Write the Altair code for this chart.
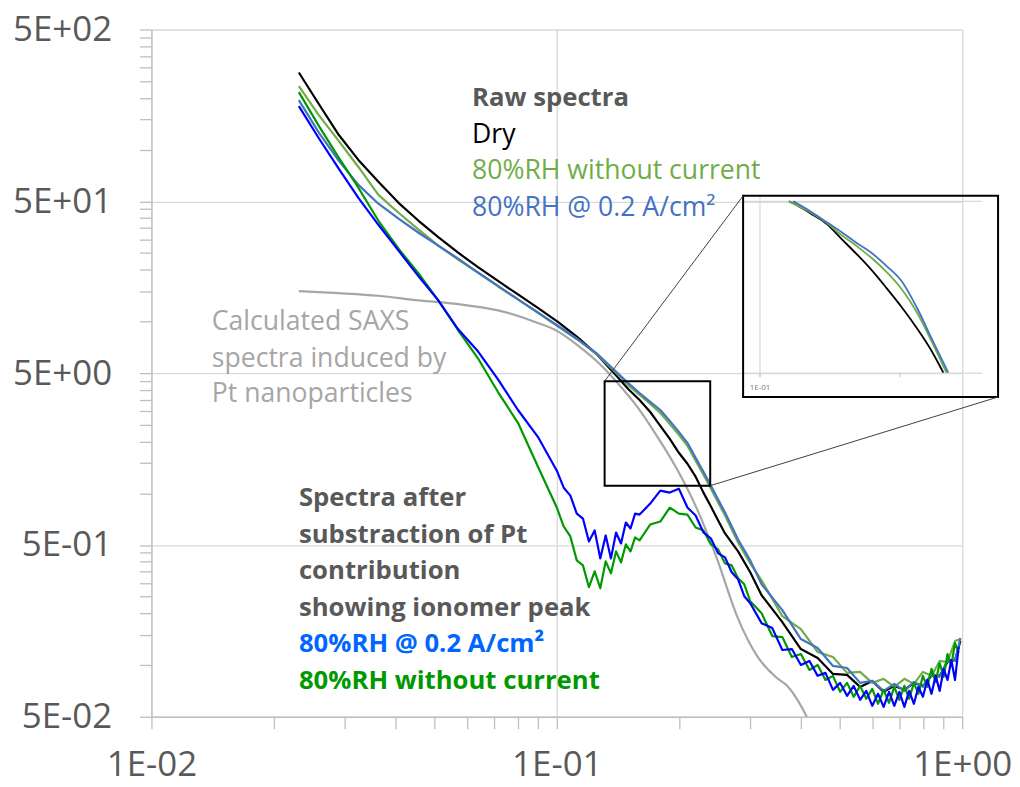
import json
import math
import altair as alt
import pandas as pd

# ---------------- data ----------------
# q grids
q_coarse = [0.0231, 0.0259, 0.0290, 0.0324, 0.0363, 0.0407, 0.0456, 0.0510, 0.0571, 0.0639,
            0.0716, 0.0802, 0.0898, 0.1006, 0.1126]
q_box = [0.1261, 0.1412, 0.15, 0.16, 0.17, 0.18, 0.19, 0.20, 0.21, 0.22, 0.23, 0.24, 0.25, 0.26, 0.28, 0.30]
q_tail = [0.32, 0.36, 0.40, 0.44, 0.48, 0.52, 0.56, 0.60, 0.64, 0.68, 0.72, 0.76, 0.80, 0.84, 0.88,
          0.92, 0.96, 0.99]
q_dip = [0.100, 0.104, 0.108, 0.112, 0.116, 0.120, 0.124, 0.128, 0.132, 0.136, 0.140, 0.144,
         0.148, 0.152, 0.156, 0.160]
q_peak = [0.17, 0.18, 0.19, 0.20, 0.21, 0.22, 0.23, 0.24, 0.25, 0.26, 0.27, 0.28, 0.29, 0.30]
q_sub_tail = [0.32, 0.34, 0.36, 0.38, 0.40, 0.42, 0.44, 0.46, 0.48, 0.50, 0.52, 0.54, 0.56, 0.58,
              0.60, 0.62, 0.64, 0.66, 0.68, 0.70, 0.72, 0.74, 0.76, 0.78, 0.80, 0.82, 0.84, 0.86,
              0.88, 0.90, 0.92, 0.94, 0.96, 0.98]

# raw spectra (coarse + box + tail)
dry_coarse = [281, 183.5, 121.5, 87.1, 64.9, 49.0, 38.5, 30.9, 25.1, 20.7, 17.2, 14.35, 11.99, 9.94, 8.08]
dry_box = [6.36, 4.74, 4.04, 3.49, 2.97, 2.465, 2.072, 1.719, 1.484, 1.248, 1.008, 0.836, 0.6934,
           0.5830, 0.4584, 0.3464]
dry_tail = [0.2548, 0.1777, 0.1239, 0.1099, 0.0888, 0.0876, 0.0746, 0.0808, 0.0698, 0.0756, 0.0717,
            0.0787, 0.0756, 0.0865, 0.0865, 0.1042, 0.1070, 0.1379]

rh_coarse = [234, 158, 112, 79.2, 54.5, 42.9, 34.2, 27.6, 22.9, 19.25, 15.97, 13.43, 11.21, 9.36, 7.82]
rh_box = [6.36, 4.93, 4.26, 3.73, 3.31, 2.93, 2.53, 2.186, 1.887, 1.545, 1.281, 1.063, 0.882, 0.741,
          0.517, 0.3905]
rh_tail = [0.3113, 0.1925, 0.1619, 0.1191, 0.1113, 0.0900, 0.0912, 0.0787, 0.0831, 0.0746, 0.0831,
           0.0777, 0.0912, 0.0865, 0.1056, 0.1042, 0.1379, 0.1416]

cur_coarse = [194, 125, 85.9, 62.3, 48.4, 39.6, 32.8, 27.6, 23.2, 19.25, 16.08, 13.43, 11.29, 9.43, 7.87]
cur_box = [6.44, 5.00, 4.375, 3.83, 3.40, 3.05, 2.635, 2.275, 1.965, 1.608, 1.334, 1.106, 0.918, 0.772,
           0.538, 0.4064]
cur_tail = [0.2951, 0.2086, 0.1416, 0.1256, 0.0988, 0.0961, 0.0787, 0.0808, 0.0707, 0.0777, 0.0707,
            0.0797, 0.0746, 0.0888, 0.0853, 0.1070, 0.1056, 0.1435]

# spectra after subtraction of the Pt contribution
sub_cur_start = [179, 116, 77.2, 52.4, 36.5, 25.8, 18.3, 13.25, 9.0, 6.7, 4.6, 3.05, 2.13]
sub_cur_dip = [1.352, 1.077, 0.968, 0.761, 0.712, 0.524, 0.607, 0.4175, 0.5675, 0.4175, 0.5907,
               0.5102, 0.6753, 0.6233, 0.761, 0.751]
sub_cur_peak = [0.870, 1.035, 1.008, 1.063, 0.825, 0.741, 0.591, 0.545, 0.4465, 0.4231, 0.3464,
                0.3155, 0.2514, 0.2291]
sub_cur_tail = [0.1753, 0.1640, 0.1223, 0.1239, 0.1001, 0.1056, 0.0865, 0.0900, 0.0717, 0.0787,
                0.0662, 0.0756, 0.0627, 0.0707, 0.0579, 0.0680, 0.0571, 0.0698, 0.0579, 0.0698,
                0.0571, 0.0707, 0.0595, 0.0746, 0.0653, 0.0819, 0.0680, 0.0865, 0.0707, 0.0949,
                0.0819, 0.1070, 0.0819, 0.1273]

sub_rh_start = [216, 137, 89.5, 60.0, 38.5, 26.5, 19.0, 13.25, 8.88, 6.1, 3.88, 2.57, 1.43]
sub_rh_dip = [0.825, 0.640, 0.560, 0.4064, 0.3802, 0.2836, 0.3510, 0.2798, 0.4010, 0.3418, 0.4584,
              0.3957, 0.5034, 0.4584, 0.5527, 0.5310]
sub_rh_peak = [0.6574, 0.6843, 0.825, 0.761, 0.751, 0.6316, 0.607, 0.5034, 0.4709, 0.3905, 0.3802,
               0.3197, 0.2951, 0.2351]
sub_rh_tail = [0.2004, 0.1474, 0.1455, 0.1113, 0.1159, 0.0936, 0.1001, 0.0819, 0.0865, 0.0698,
               0.0787, 0.0653, 0.0756, 0.0636, 0.0727, 0.0595, 0.0717, 0.0603, 0.0746, 0.0627,
               0.0756, 0.0636, 0.0787, 0.0680, 0.0865, 0.0746, 0.0949, 0.0797, 0.1028, 0.0853,
               0.1159, 0.0988, 0.1343, 0.1175]

# calculated SAXS of the Pt nanoparticles
pt_q = [0.0231, 0.0290, 0.0363, 0.0456, 0.0571, 0.0716, 0.0898, 0.1006, 0.1126, 0.1261,
        0.1412, 0.1581, 0.1771, 0.1983, 0.2221, 0.2487, 0.2785, 0.3118, 0.3491, 0.3694,
        0.3909, 0.4136, 0.4378]
pt_I = [15.0, 14.6, 14.1, 13.25, 12.6, 11.6, 9.8, 8.75, 7.25, 5.8,
        4.38, 3.17, 2.13, 1.37, 0.803, 0.412, 0.192, 0.113, 0.084, 0.076,
        0.0636, 0.050, 0.0374]

# inset (own axes: q 0.1-0.3, I 0.8-8)
inset_q_dry = [0.1154, 0.1200, 0.1292, 0.1392, 0.1498, 0.1613, 0.1737, 0.1870, 0.2014, 0.2169, 0.2335, 0.2476]
inset_dry = [8.0, 7.58, 6.73, 5.89, 4.82, 3.94, 3.18, 2.50, 1.94, 1.47, 1.08, 0.805]
inset_q_rh = [0.1154, 0.1200, 0.1292, 0.1392, 0.1498, 0.1613, 0.1737, 0.1870, 0.2014, 0.2169, 0.2335, 0.2514]
inset_rh = [8.0, 7.58, 6.82, 5.97, 5.08, 4.39, 3.74, 3.10, 2.47, 1.82, 1.23, 0.805]
inset_q_cur = [0.1178, 0.1200, 0.1292, 0.1392, 0.1498, 0.1613, 0.1737, 0.1870, 0.2014, 0.2169, 0.2335, 0.2537]
inset_cur = [8.0, 7.79, 6.91, 6.04, 5.29, 4.57, 4.00, 3.36, 2.75, 1.94, 1.28, 0.805]

inset_axis_q = [0.1, 0.3]          # inset's own x range
inset_axis_I = [0.8, 8.0]          # inset's own y range
inset_area_q = [0.3171, 1.12]      # where that range sits on the main axes
inset_area_I = [5.0, 50.0]
inset_frame_q = [0.2881, 1.226]
inset_frame_I = [3.63, 53.8]
zoom_box_q = [0.1312, 0.2390]
zoom_box_I = [1.106, 4.49]

x_major = [0.01, 0.1, 1.0]
x_major_labels = ["1E-02", "1E-01", "1E+00"]
y_major = [0.05, 0.5, 5.0, 50.0, 500.0]
y_major_labels = ["5E-02", "5E-01", "5E+00", "5E+01", "5E+02"]

# ---------------- helpers ----------------
def with_minors(majors):
    vals = []
    for m in majors[:-1]:
        for k in range(1, 10):
            vals.append(round(m * k, 10))
    vals.append(majors[-1])
    return vals


def label_expr(vals, labs):
    s = "''"
    for v, l in zip(reversed(vals), reversed(labs)):
        s = f"datum.value == {v} ? '{l}' : {s}"
    return s


GREY_TXT = "#595959"
FONT = "Open Sans"

axis_common = dict(labelFont=FONT, labelFontSize=35, labelColor=GREY_TXT,
                   tickColor="#bfbfbf", tickSize=12, tickWidth=1.3,
                   domainColor="#bfbfbf", domainWidth=1.3,
                   grid=True, gridColor="#d9d9d9", gridWidth=1.3,
                   labelOverlap=False, labelFlush=False, title=None)

x_axis = alt.Axis(values=with_minors(x_major), labelExpr=label_expr(x_major, x_major_labels),
                  gridOpacity={"condition": {"test": f"indexof({json.dumps(x_major)}, datum.value) >= 0", "value": 1}, "value": 0},
                  labelPadding=19, **axis_common)
y_axis = alt.Axis(values=with_minors(y_major), labelExpr=label_expr(y_major, y_major_labels),
                  gridOpacity={"condition": {"test": f"indexof({json.dumps(y_major)}, datum.value) >= 0", "value": 1}, "value": 0},
                  labelPadding=28, **axis_common)

xs = alt.Scale(type="log", domain=[0.01, 1.0], nice=False)
ys = alt.Scale(type="log", domain=[0.05, 500.0], nice=False)


def X(f):
    return alt.X(f, type="quantitative", scale=xs, axis=x_axis)


def Y(f):
    return alt.Y(f, type="quantitative", scale=ys, axis=y_axis)


def curve(qs, vals, color, width=2.2, interp="linear"):
    df = pd.DataFrame({"q": qs, "I": vals})
    return alt.Chart(df).mark_line(color=color, strokeWidth=width, clip=True,
                                   interpolate=interp, strokeJoin="round").encode(x=X("q"), y=Y("I"))


q_raw = q_coarse + q_box + q_tail
q_sub = q_coarse[:13] + q_dip + q_peak + q_sub_tail

layers = [
    curve(pt_q, pt_I, "#a6a6a6", interp="monotone"),
    curve(q_raw, dry_coarse + dry_box + dry_tail, "#000000"),
    curve(q_raw, rh_coarse + rh_box + rh_tail, "#70ad47"),
    curve(q_raw, cur_coarse + cur_box + cur_tail, "#4472c4"),
    curve(q_sub, sub_rh_start + sub_rh_dip + sub_rh_peak + sub_rh_tail, "#009900"),
    curve(q_sub, sub_cur_start + sub_cur_dip + sub_cur_peak + sub_cur_tail, "#0000ff"),
]

# mapping of the inset's own axes onto the main axes
kq = math.log(inset_area_q[1] / inset_area_q[0]) / math.log(inset_axis_q[1] / inset_axis_q[0])
kI = math.log(inset_area_I[1] / inset_area_I[0]) / math.log(inset_axis_I[1] / inset_axis_I[0])
map_q = f"{inset_area_q[0]} * pow(datum.qi / {inset_axis_q[0]}, {kq})"
map_I = f"{inset_area_I[0]} * pow(datum.Ii / {inset_axis_I[0]}, {kI})"
map_q2 = f"{inset_area_q[0]} * pow(datum.qi2 / {inset_axis_q[0]}, {kq})"
map_I2 = f"{inset_area_I[0]} * pow(datum.Ii2 / {inset_axis_I[0]}, {kI})"

# inset gridlines / ticks (inset coordinates)
inset_rules = pd.DataFrame({
    "qi": [0.1, 0.092, 0.092],
    "qi2": [0.1, 0.3, 0.3],
    "Ii": [0.757, 8.0, 0.8],
    "Ii2": [8.6, 8.0, 0.8],
})
layers.append(alt.Chart(inset_rules).transform_calculate(q=map_q, I=map_I, q2=map_q2, I2=map_I2)
              .mark_rule(color="#d9d9d9", strokeWidth=1.2)
              .encode(x=X("q"), x2="q2:Q", y=Y("I"), y2="I2:Q"))
inset_ticks = pd.DataFrame({"qi": [0.1, 0.2], "qi2": [0.1, 0.2], "Ii": [0.757, 0.757], "Ii2": [0.8, 0.8]})
layers.append(alt.Chart(inset_ticks).transform_calculate(q=map_q, I=map_I, q2=map_q2, I2=map_I2)
              .mark_rule(color="#bfbfbf", strokeWidth=1)
              .encode(x=X("q"), x2="q2:Q", y=Y("I"), y2="I2:Q"))
inset_lab = pd.DataFrame({"qi": [0.1], "Ii": [0.64], "t": ["1E-01"]})
layers.append(alt.Chart(inset_lab).transform_calculate(q=map_q, I=map_I)
              .mark_text(font=FONT, fontSize=8, color="#808080", align="center", baseline="alphabetic")
              .encode(x=X("q"), y=Y("I"), text="t:N"))

for qs, vals, col in [(inset_q_dry, inset_dry, "#000000"),
                      (inset_q_rh, inset_rh, "#70ad47"),
                      (inset_q_cur, inset_cur, "#4472c4")]:
    df = pd.DataFrame({"qi": qs, "Ii": vals})
    layers.append(alt.Chart(df).transform_calculate(q=map_q, I=map_I)
                  .mark_line(color=col, strokeWidth=1.8, interpolate="monotone")
                  .encode(x=X("q"), y=Y("I")))

# zoom box and inset frame
rects = pd.DataFrame({"q1": [zoom_box_q[0], inset_frame_q[0]], "q2": [zoom_box_q[1], inset_frame_q[1]],
                      "I1": [zoom_box_I[0], inset_frame_I[0]], "I2": [zoom_box_I[1], inset_frame_I[1]]})
layers.append(alt.Chart(rects).mark_rect(fillOpacity=0, stroke="#000000", strokeWidth=2)
              .encode(x=X("q1"), x2="q2:Q", y=Y("I1"), y2="I2:Q"))
connectors = pd.DataFrame({"qa": [zoom_box_q[0], zoom_box_q[1]], "Ia": [zoom_box_I[1], zoom_box_I[0]],
                           "qb": [inset_frame_q[0], inset_frame_q[1]], "Ib": [inset_frame_I[1], inset_frame_I[0]]})
layers.append(alt.Chart(connectors).mark_rule(color="#404040", strokeWidth=1)
              .encode(x=X("qa"), x2="qb:Q", y=Y("Ia"), y2="Ib:Q"))

# annotations
notes = pd.DataFrame([
    (0.0618, 178.9, "Raw spectra", GREY_TXT, "bold"),
    (0.0618, 109.2, "Dry", "#000000", "normal"),
    (0.0618, 67.1, "80%RH without current", "#70ad47", "normal"),
    (0.0618, 41.2, "80%RH @ 0.2 A/cm²", "#4472c4", "normal"),
    (0.01409, 8.88, "Calculated SAXS", "#a6a6a6", "normal"),
    (0.01409, 5.44, "spectra induced by", "#a6a6a6", "normal"),
    (0.01409, 3.40, "Pt nanoparticles", "#a6a6a6", "normal"),
    (0.02311, 0.839, "Spectra after", GREY_TXT, "bold"),
    (0.02311, 0.515, "substraction of Pt", GREY_TXT, "bold"),
    (0.02311, 0.3155, "contribution", GREY_TXT, "bold"),
    (0.02311, 0.1932, "showing ionomer peak", GREY_TXT, "bold"),
    (0.02311, 0.1186, "80%RH @ 0.2 A/cm²", "#0066ff", "bold"),
    (0.02311, 0.0727, "80%RH without current", "#009900", "bold"),
], columns=["q", "I", "text", "color", "weight"])

for w, size in [("normal", 26.7), ("bold", 25.8)]:
    layers.append(alt.Chart(notes[notes.weight == w]).mark_text(
        font=FONT, fontSize=size, fontWeight=w, align="left", baseline="alphabetic")
        .encode(x=X("q"), y=Y("I"), text="text:N", color=alt.Color("color:N", scale=None)))

chart = alt.layer(*layers).properties(
    width=814, height=690,
    autosize=alt.AutoSizeParams(type="none"),
    padding={"left": 144, "top": 20, "right": 50, "bottom": 80},
    background="white",
).configure_view(strokeWidth=0)

chart.save("out.html", embed_options={"renderer": "svg", "actions": False})
